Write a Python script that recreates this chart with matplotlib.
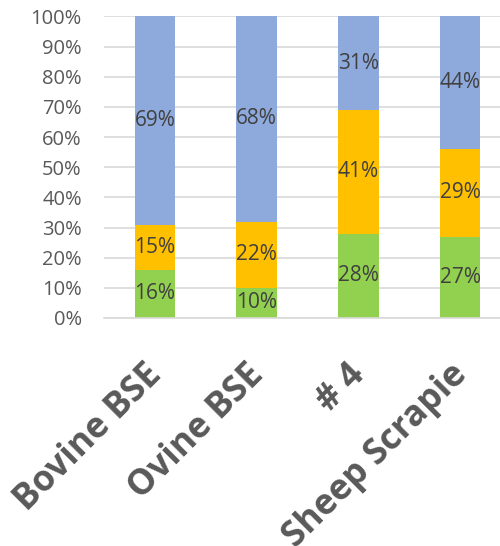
import matplotlib
matplotlib.use("Agg")
import matplotlib.pyplot as plt
import matplotlib.transforms as mtransforms
import numpy as np

# data (percent)
categories = ["Bovine BSE", "Ovine BSE", "# 4", "Sheep Scrapie"]
green = [16, 10, 28, 27]
orange = [15, 22, 41, 29]
blue = [69, 68, 31, 44]

colors = ["#92D050", "#FFC000", "#8EA9DB"]

plt.rcParams['font.family'] = ['Open Sans', 'DejaVu Sans']

fig = plt.figure(figsize=(5, 5.46), dpi=100)
ax = fig.add_axes([0.208, 0.4176, 0.814, 0.5522])

x = np.arange(len(categories))
bottom = np.zeros(len(categories))
for vals, c in zip([green, orange, blue], colors):
    vals = np.array(vals, dtype=float)
    ax.bar(x, vals, 0.4, bottom=bottom, color=c, zorder=2)
    for xi, b, v in zip(x, bottom, vals):
        ax.text(xi, b + v / 2, f"{int(v)}%", ha="center", va="center",
                fontsize=15, color="#404040", zorder=3)
    bottom += vals

ax.set_xlim(-0.5, 3.5)
ax.set_ylim(0, 100)
ax.set_yticks(np.arange(0, 101, 10))
ax.set_yticklabels([f"{t}%" for t in range(0, 101, 10)])
ax.tick_params(axis="y", length=0, pad=16, labelsize=14.5, labelcolor="#595959")
ax.set_xticks([])
ax.grid(axis="y", color="#D9D9D9", linewidth=1.2, zorder=0)
for s in ["top", "right", "left"]:
    ax.spines[s].set_visible(False)
ax.spines["bottom"].set_color("#D9D9D9")
ax.spines["bottom"].set_linewidth(1.2)

trans = mtransforms.blended_transform_factory(ax.transData, ax.transAxes)
for xi, lab in zip(x, categories):
    ax.text(xi + 0.14, -0.128, lab, transform=trans, rotation=45,
            ha="right", va="top", fontsize=25.5, fontweight="bold", color="#595959")

fig.savefig("out.png", dpi=100)
